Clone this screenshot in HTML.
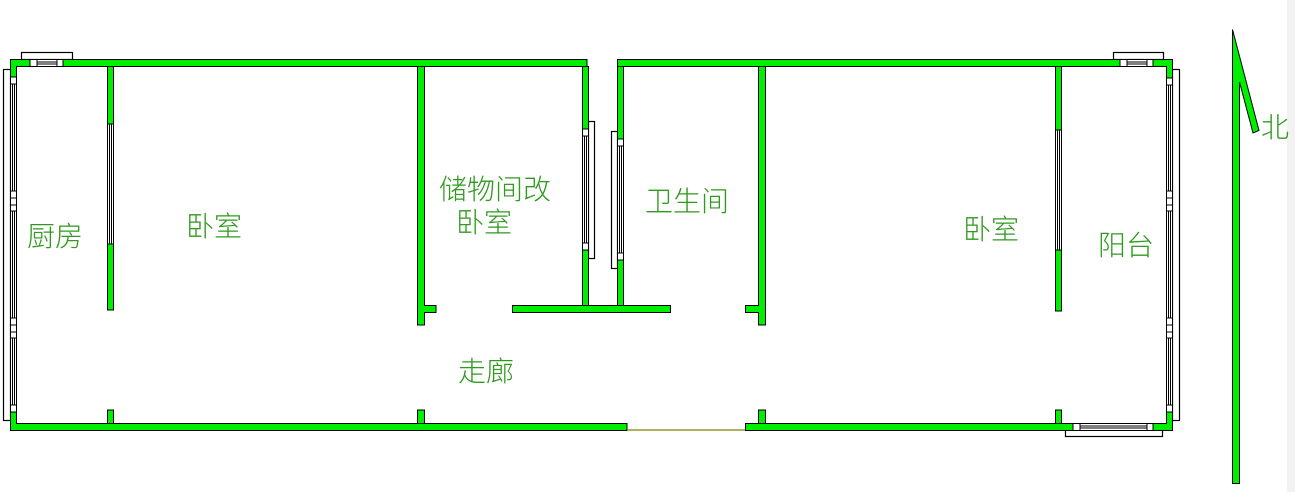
<!DOCTYPE html>
<html><head><meta charset="utf-8"><style>
html,body{margin:0;padding:0;background:#fff;}
svg{display:block;}
text{font-family:"Liberation Sans","Noto Sans CJK SC",sans-serif;font-size:28px;font-weight:300;fill:#2f9a1e;}
</style></head><body>
<svg width="1295" height="492" viewBox="0 0 1295 492" xmlns="http://www.w3.org/2000/svg">
<rect x="1287" y="0" width="8" height="492" fill="#f2f2f2"/>
<g fill="#fff" stroke="#000" stroke-width="1.2">
<rect x="3.5" y="69.5" width="7" height="351"/>
<rect x="21.5" y="52.5" width="51" height="7"/>
<rect x="1113.5" y="52.5" width="50" height="7"/>
<rect x="1172.5" y="69.5" width="7" height="351"/>
<rect x="1065.5" y="429.5" width="97" height="7"/>
<rect x="588.5" y="121.5" width="6" height="137"/>
<rect x="611.5" y="131.5" width="6" height="137"/>
</g>
<g fill="#fff" stroke="#000" stroke-width="1">
<rect x="10.5" y="75" width="6" height="335"/>
<line x1="12.5" y1="75" x2="12.5" y2="410"/><line x1="14.5" y1="75" x2="14.5" y2="410"/>
<rect x="1166.5" y="75" width="6" height="335"/>
<line x1="1168.5" y1="75" x2="1168.5" y2="410"/><line x1="1170.5" y1="75" x2="1170.5" y2="410"/>
<rect x="30" y="59.5" width="33" height="7"/><line x1="30" y1="62" x2="63" y2="62"/><line x1="30" y1="64" x2="63" y2="64"/>
<rect x="1120" y="59.5" width="33" height="7"/><line x1="1120" y1="62" x2="1153" y2="62"/><line x1="1120" y1="64" x2="1153" y2="64"/>
<rect x="1073" y="423.5" width="80" height="7"/><line x1="1073" y1="426" x2="1153" y2="426"/><line x1="1073" y1="428" x2="1153" y2="428"/>
<rect x="107.5" y="124" width="6" height="120"/><line x1="109.5" y1="124" x2="109.5" y2="244"/><line x1="111.5" y1="124" x2="111.5" y2="244"/>
<rect x="1055.5" y="130" width="6" height="120"/><line x1="1057.5" y1="130" x2="1057.5" y2="250"/><line x1="1059.5" y1="130" x2="1059.5" y2="250"/>
<rect x="582.5" y="130" width="6" height="120"/><line x1="584.5" y1="130" x2="584.5" y2="250"/><line x1="586.5" y1="130" x2="586.5" y2="250"/>
<rect x="617.5" y="140" width="6" height="120"/><line x1="619.5" y1="140" x2="619.5" y2="260"/><line x1="621.5" y1="140" x2="621.5" y2="260"/>
<rect x="30" y="59.5" width="7" height="7"/><rect x="57" y="59.5" width="6" height="7"/>
<rect x="1120" y="59.5" width="7" height="7"/><rect x="1147" y="59.5" width="6" height="7"/>
<rect x="1073" y="423.5" width="7" height="7"/><rect x="1147" y="423.5" width="6" height="7"/>
<rect x="10.5" y="77" width="6" height="7"/><rect x="10.5" y="191" width="6" height="7"/><rect x="10.5" y="198" width="6" height="7"/><rect x="10.5" y="205" width="6" height="6"/>
<rect x="10.5" y="318" width="6" height="7"/><rect x="10.5" y="325" width="6" height="7"/><rect x="10.5" y="332" width="6" height="6"/><rect x="10.5" y="405" width="6" height="7"/>
<rect x="1166.5" y="78" width="6" height="7"/><rect x="1166.5" y="191" width="6" height="7"/><rect x="1166.5" y="198" width="6" height="7"/><rect x="1166.5" y="205" width="6" height="6"/>
<rect x="1166.5" y="318" width="6" height="7"/><rect x="1166.5" y="325" width="6" height="7"/><rect x="1166.5" y="332" width="6" height="6"/><rect x="1166.5" y="405" width="6" height="7"/>
<rect x="582.5" y="129" width="6" height="7"/><rect x="582.5" y="243" width="6" height="7"/>
<rect x="617.5" y="139" width="6" height="7"/><rect x="617.5" y="253" width="6" height="7"/>
</g>
<g fill="#00ee00" stroke="#000" stroke-width="1">
<path d="M10.5 59.5 H30 V66.5 H16.5 V77 H10.5 Z"/>
<rect x="63" y="59.5" width="524" height="7"/>
<rect x="617.5" y="59.5" width="502.5" height="7"/>
<path d="M1153 59.5 H1172.5 V78 H1166.5 V66.5 H1153 Z"/>
<path d="M10.5 412 H16.5 V423.5 H627 V430.5 H10.5 Z"/>
<rect x="745.5" y="423.5" width="327.5" height="7"/>
<path d="M1153 423.5 H1166.5 V412 H1172.5 V430.5 H1153 Z"/>
<rect x="107.5" y="66.5" width="6" height="57.5"/>
<rect x="107.5" y="244" width="6" height="66"/>
<rect x="107.5" y="410" width="6" height="13.5"/>
<path d="M417.5 66.5 H424.5 V305.5 H436 V312.5 H424.5 V325 H417.5 Z"/>
<rect x="417.5" y="410" width="7" height="13.5"/>
<rect x="582.5" y="66.5" width="6" height="62.5"/>
<rect x="582.5" y="250" width="6" height="55.5"/>
<rect x="617.5" y="66.5" width="6" height="72.5"/>
<rect x="617.5" y="260" width="6" height="45.5"/>
<rect x="512.5" y="305.5" width="158" height="7"/>
<path d="M758.5 66.5 H765.5 V325 H758.5 V312.5 H745.5 V305.5 H758.5 Z"/>
<rect x="758.5" y="410" width="7" height="13.5"/>
<rect x="1055.5" y="66.5" width="6" height="63.5"/>
<rect x="1055.5" y="250" width="6" height="61"/>
<rect x="1055.5" y="410" width="6" height="13.5"/>
<path d="M1232.5 29.5 L1259 130.5 L1253 133 L1239.5 82 V483.5 H1232.5 Z"/>
</g>
<line x1="627" y1="430" x2="745" y2="430" stroke="#808000" stroke-width="1.2"/>
<text x="27" y="246">厨房</text>
<text x="186" y="236">卧室</text>
<text x="439" y="199">储物间改</text>
<text x="456" y="232">卧室</text>
<text x="645" y="211">卫生间</text>
<text x="963" y="239">卧室</text>
<text x="1098" y="255">阳台</text>
<text x="458" y="381">走廊</text>
<text x="1261" y="137">北</text>
</svg>
</body></html>
